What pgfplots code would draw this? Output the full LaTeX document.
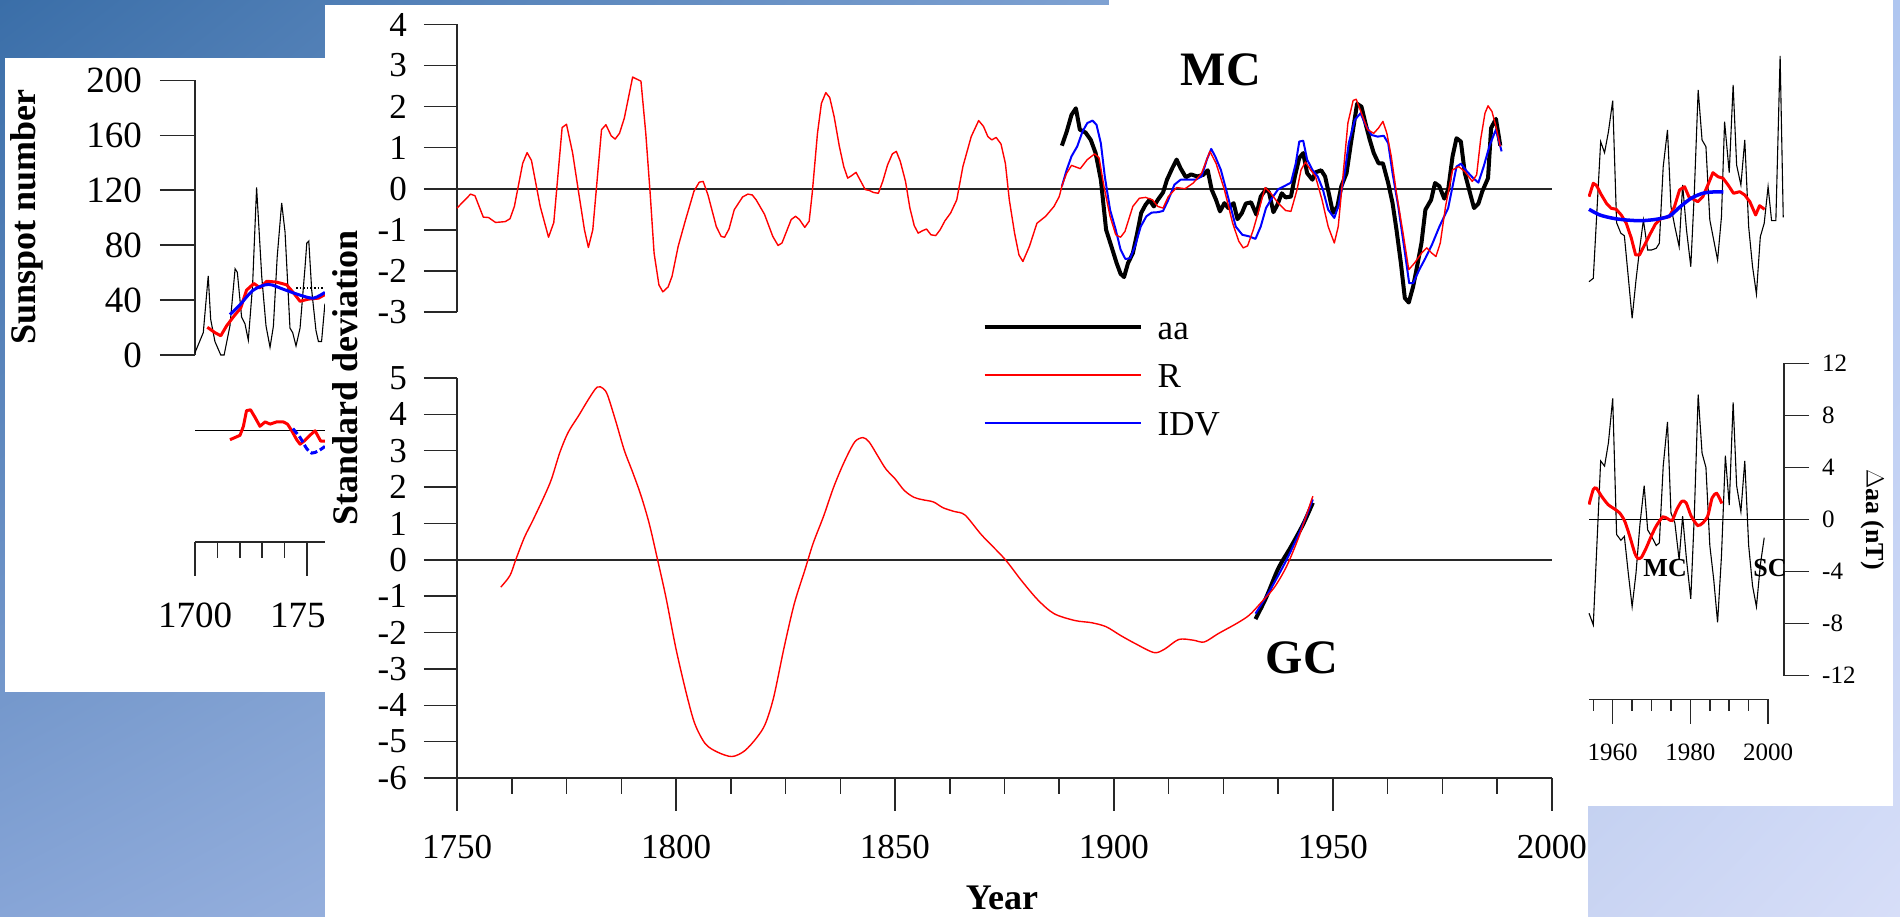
\documentclass[border=0pt]{standalone}
\usepackage{fontspec}
\setmainfont{Liberation Serif}
\usepackage{pgfplots}
\pgfplotsset{compat=1.18}
\usetikzlibrary{shadings}

\newcommand{\fs}[1]{\fontsize{#1}{#1}\selectfont}

\definecolor{bgUL}{RGB}{58,110,168}
\definecolor{bgUR}{RGB}{175,198,240}
\definecolor{bgLL}{RGB}{135,165,215}
\definecolor{bgLR}{RGB}{215,222,248}
\definecolor{axisgray}{RGB}{40,40,40}

\pgfplotsset{
  panel/.style={
    scale only axis, clip=false, anchor=south west,
    /pgf/number format/assume math mode=true,
    /pgf/number format/1000 sep={},
    tick align=outside,
    axis line style={line width=1.5pt, axisgray},
    every tick/.style={line width=1.5pt, axisgray},
    tick label style={inner sep=0pt},
  },
}

\begin{document}
\begin{tikzpicture}
\useasboundingbox (0pt,0pt) rectangle (1900pt,917pt);
\shade[upper left=bgUL, upper right=bgUR, lower left=bgLL, lower right=bgLR]
  (0pt,0pt) rectangle (1900pt,917pt);

% cards behind the main figure
\fill[white] (5pt,225pt) rectangle (340pt,859pt);
\fill[white] (1580pt,111pt) rectangle (1893pt,917pt);

% ---------- left inset: sunspot number ----------
\begin{axis}[panel, at={(195pt,562pt)}, width=134.4pt, height=274.6pt,
  xmin=1700, xmax=1760, ymin=0, ymax=200,
  axis x line=none, axis y line*=left,
  ytick={0,40,...,200}, major tick length=35pt,
  yticklabel style={font=\fs{37}, xshift=-18pt},
  ylabel={Sunspot number},
  every axis y label/.style={at={(axis description cs:-1.252,0.504)}, anchor=center, rotate=90, font=\fs{36}\bfseries}]
\addplot[black, line width=1.1pt] coordinates {
(1700,1.7)(1703.7,16.3)(1705.9,57.6)(1707,26)(1708.9,9.8)(1711.5,0)(1713,0)(1715.6,21.2)
(1717.9,62.8)(1718.9,60.2)(1720.8,27.7)(1722.3,22.8)(1723.8,10.8)(1725.7,50.5)(1727.5,122)
(1729.8,57)(1731.7,21.2)(1733.5,5.6)(1735,21)(1736.7,71.6)(1738.7,110.7)(1740.2,89.5)
(1742.4,19.6)(1743.6,16.3)(1745.1,6.6)(1746.9,19.6)(1749.1,63.5)(1749.9,81.4)(1750.8,83)
(1752.1,47.2)(1754,17.9)(1755.1,9.8)(1756.5,9.8)(1758,37.4)};
\addplot[black, dotted, line width=1.6pt] coordinates {(1745.1,48.9)(1760,48.9)};
\addplot[red, line width=3pt, line join=round] coordinates {
(1705.5,20.2)(1708.9,16.3)(1711.5,14)(1714.1,21.2)(1717.1,27.7)(1720.4,34.2)(1723,47.2)
(1726.3,52.1)(1729,48.9)(1732,53.7)(1736.4,53.1)(1740.9,51.1)(1743.8,45.6)(1746.9,39.1)
(1750.6,40.7)(1755.1,41.4)(1758,44)};
\addplot[blue, line width=3pt, smooth] coordinates {
(1715.6,29.4)(1720.1,36.6)(1726,47.2)(1732.7,51.4)(1739.4,47.9)(1746.1,44)(1752.8,41.4)(1758,45.6)};
\end{axis}

% left inset: deviation strip and its year axis
\begin{axis}[panel, at={(195pt,375pt)}, width=134.4pt, height=142pt,
  xmin=1700, xmax=1760, ymin=-111.2, ymax=30.8,
  axis x line*=bottom, axis y line=none,
  xtick={1700,1750}, minor x tick num=4,
  major tick length=34pt, minor tick length=16pt,
  xticklabel style={font=\fs{37}, yshift=-26.7pt}]
\addplot[black, line width=1.4pt] coordinates {(1700,0)(1760,0)};
\addplot[red, line width=3pt, line join=round] coordinates {
(1715.6,-8.9)(1717.9,-6.7)(1720.1,-4.5)(1721.6,4.5)(1723,20.1)(1724.8,21)(1726.8,13.4)
(1729,4.5)(1731.3,8.9)(1733.5,6.7)(1736.5,8.9)(1739.4,8.9)(1741.3,6.7)(1743.2,0)
(1745.4,-8.9)(1746.9,-13.4)(1748.7,-10.3)(1751.3,-4.5)(1753.6,0)(1756.1,-10.3)(1758,-10.3)};
\addplot[blue, dash pattern=on 7pt off 3pt, line width=3pt, smooth] coordinates {
(1743.7,2.2)(1746.9,-6.7)(1749.9,-17.9)(1752.1,-22.3)(1755.1,-20.1)(1758,-15.6)};
\end{axis}

% ---------- right inset ----------
\begin{axis}[panel, at={(1589pt,597pt)}, width=195pt, height=280pt,
  xmin=1953.9, xmax=2004.1, ymin=40, ymax=320, y dir=reverse, hide axis]
\addplot[black, line width=1.1pt] coordinates {
(1953.9,281.7)(1955,278.3)(1956.9,141.7)(1957.9,152.7)(1958.9,131.7)(1960,100.7)(1961,222.7)
(1962.1,233.3)(1963,235.7)(1964,276.7)(1965,318.3)(1966,280)(1967,246.7)(1967.9,220)
(1969,250)(1970,250)(1971.2,248.3)(1972,243.3)(1973,166.7)(1974.1,130)(1975,206.7)
(1976,226.7)(1977.1,246.7)(1978,185)(1979,230)(1980.1,266.7)(1981,193.3)(1982,90)
(1983,140)(1984,146.7)(1985,220)(1986,240)(1987,260)(1988,216.7)(1988.8,121.7)(1990,172.7)
(1991,85)(1991.9,165)(1993,185)(1994,140)(1995,226.7)(1996,266.7)(1997,294)(1998,236.7)
(1999,223.3)(2000,186.7)(2000.9,220.7)(2002,220.7)(2003.1,56)(2003.9,217.3)};
\addplot[red, line width=3pt, line join=round] coordinates {
(1953.9,196.7)(1955,183.3)(1955.8,185.3)(1957.1,195)(1958.5,204)(1959.6,208.3)(1960.9,209.3)
(1962.2,215)(1963.5,223.3)(1964.8,238.3)(1965.9,255)(1966.9,255)(1968.2,245)(1969.5,235)
(1971,224)(1972.5,218.3)(1974.6,216.7)(1975.9,206.7)(1977.2,190)(1978.5,186.7)(1979.6,196.7)
(1980.8,199.3)(1981.9,201.7)(1983.2,196.7)(1984.5,185)(1985.8,172.7)(1987.1,176.7)
(1988.4,178.3)(1989.7,185)(1991.1,193.3)(1992.7,191.7)(1994,195)(1995.3,201.7)(1996.8,215)
(1997.8,205.7)(1999.1,209.3)};
\addplot[blue, line width=3.5pt, smooth] coordinates {
(1953.9,209.3)(1956.7,215)(1960.1,218.3)(1963.5,220)(1967.4,220.7)(1971.2,219.3)(1974.6,216)
(1977.2,207.3)(1980.2,198.3)(1983.2,193.3)(1985.8,192)(1988.5,192)};
\end{axis}

\begin{axis}[panel, at={(1589pt,241.3pt)}, width=195pt, height=312.4pt,
  xmin=1953.9, xmax=2004.1, ymin=-12, ymax=12,
  axis x line=none, axis y line*=right,
  ytick={-12,-8,...,12}, major tick length=25pt,
  yticklabel style={font=\fs{25}, xshift=13pt},
  ylabel={$\Delta$aa (nT)},
  every axis y label/.style={at={(axis description cs:1.456,0.5)}, anchor=center, rotate=-90, font=\fs{26}\bfseries}]
\addplot[black, line width=1.4pt] coordinates {(1953.9,0)(2004.1,0)};
\addplot[black, line width=1.1pt] coordinates {
(1953.9,-7.2)(1955,-8.1)(1956.9,4.5)(1957.9,4.1)(1958.9,5.9)(1960,9.3)(1961,-1.15)(1962.1,-1.6)
(1963,-1.3)(1964,-4.1)(1965,-6.7)(1966,-4.1)(1967,-0.4)(1968.1,2.6)(1969,-0.8)(1970,-1.3)
(1971.2,-2.0)(1972,-1.8)(1973,4.1)(1974.1,7.5)(1975,0.5)(1976,-0.26)(1977.1,-3.1)(1978,0.26)
(1979,-3.1)(1980.1,-6.1)(1981,0.26)(1982,9.6)(1983,5.1)(1984,4.0)(1985,-2.0)(1986,-4.6)
(1987,-7.9)(1988,-2.8)(1989,4.9)(1990,1.1)(1991,9.0)(1991.9,2.6)(1993,0.6)(1994,4.5)
(1995,-2.0)(1996,-5.1)(1997,-6.7)(1998,-3.5)(1999,-1.4)};
\addplot[red, line width=3pt, smooth, tension=0.4] coordinates {
(1953.9,1.15)(1955,2.3)(1955.8,2.4)(1957.1,1.8)(1958.8,1.15)(1960.5,0.8)(1961.8,0.5)
(1963.1,-0.13)(1964.4,-1.3)(1965.7,-2.6)(1966.5,-3.0)(1967.4,-2.9)(1968.6,-2.2)(1969.9,-1.3)
(1971.2,-0.5)(1972.9,0.2)(1974.2,0.05)(1975.3,-0.08)(1976.5,0.77)(1977.8,1.4)(1978.9,1.28)
(1980.2,0.26)(1981.9,-0.46)(1983.2,-0.26)(1984.5,0.3)(1985.6,1.66)(1986.8,2.0)(1988.1,1.23)};
\node[font=\fs{26}\bfseries] at (axis cs:1973.5,-3.76) {MC};
\node[font=\fs{26}\bfseries] at (axis cs:2000.5,-3.76) {SC};
\end{axis}

\begin{axis}[panel, at={(1589pt,217.7pt)}, width=179pt, height=20pt,
  xmin=1953.9, xmax=2000, ymin=0, ymax=1,
  axis x line*=bottom, axis y line=none,
  xtick={1960,1980,2000}, minor xtick={1955,1965,1970,1975,1985,1990,1995},
  major tick length=24.7pt, minor tick length=11.4pt,
  xticklabel style={font=\fs{25}, yshift=-19.3pt}]
\end{axis}

% ---------- main figure card ----------
\fill[white] (325pt,0pt) rectangle (1588pt,912pt);
\fill[white] (1109pt,912pt) rectangle (1588pt,917pt);

\begin{scope}
\clip (325pt,0pt) rectangle (1588pt,917pt);

% MC: decadal components
\begin{axis}[panel, at={(457pt,605pt)}, width=1095pt, height=287.5pt,
  xmin=1750, xmax=2000, ymin=-3, ymax=4,
  axis x line=none, axis y line*=left,
  ytick={-3,...,4}, major tick length=33pt,
  yticklabel style={font=\fs{35}, xshift=-17pt}]
\addplot[axisgray, line width=1.5pt] coordinates {(1750,0)(2000,0)};
\addplot[black, line width=4pt, line join=round] coordinates {
(1888.1,1.05)(1889.2,1.39)(1890.3,1.80)(1891.3,1.96)(1892.2,1.44)(1893.5,1.37)(1894.7,1.19)
(1895.8,0.87)(1897,0.22)(1898.2,-1.0)(1899.4,-1.40)(1900.6,-1.81)(1901.5,-2.07)(1902.3,-2.15)
(1903.2,-1.81)(1904.3,-1.57)(1905.3,-1.08)(1906.2,-0.59)(1907.2,-0.39)(1908.1,-0.27)
(1909.1,-0.43)(1910,-0.27)(1911.2,-0.09)(1912.1,0.22)(1913.3,0.50)(1914.3,0.71)(1915.2,0.50)
(1916.4,0.28)(1917.6,0.35)(1919,0.30)(1920.4,0.34)(1921.4,0.45)(1922.3,-0.02)(1923.3,-0.27)
(1924.2,-0.55)(1925.2,-0.35)(1926.1,-0.47)(1927.3,-0.35)(1928.2,-0.74)(1929.2,-0.59)
(1930.1,-0.36)(1931.3,-0.33)(1932.5,-0.63)(1933.5,-0.19)(1934.7,-0.01)(1935.4,-0.09)
(1936.4,-0.57)(1937.3,-0.39)(1938.3,-0.11)(1939.2,-0.21)(1940.4,-0.19)(1941.3,0.30)
(1942.3,0.75)(1943.2,0.87)(1944.1,0.38)(1945.3,0.22)(1946,0.40)(1947.3,0.45)(1948.2,0.30)
(1949.2,-0.19)(1950,-0.59)(1951,-0.43)(1951.9,0.06)(1953.1,0.38)(1954.1,1.11)(1955.5,2.07)
(1956.5,2.00)(1957.4,1.60)(1958.4,1.19)(1959.3,0.87)(1960.4,0.62)(1961.4,0.62)(1962.6,0.14)
(1963.6,-0.35)(1964.5,-1.0)(1965.5,-1.81)(1966.4,-2.66)(1967.3,-2.77)(1968.3,-2.38)
(1969.2,-1.89)(1970.2,-1.32)(1971.1,-0.51)(1972.4,-0.27)(1973.3,0.14)(1974.3,0.06)
(1975.4,-0.24)(1976.3,-0.02)(1977.3,0.79)(1978.2,1.23)(1979.2,1.15)(1980.1,0.38)
(1981.3,-0.11)(1982.2,-0.47)(1983.2,-0.36)(1984.1,-0.06)(1985.4,0.26)(1986.1,1.48)
(1987.2,1.70)(1988.2,1.05)};
\addplot[blue, line width=2pt, line join=round] coordinates {
(1888.1,0.06)(1889.2,0.46)(1890.3,0.79)(1891.6,1.03)(1892.8,1.39)(1893.9,1.60)(1895.1,1.66)
(1896,1.56)(1897,1.11)(1897.9,0.30)(1899.1,-0.51)(1900.4,-1.0)(1901.5,-1.48)(1902.6,-1.71)
(1903.7,-1.69)(1904.8,-1.40)(1906.1,-0.92)(1907.4,-0.67)(1908.6,-0.58)(1910,-0.57)
(1911.2,-0.54)(1912.4,-0.27)(1913.8,0.10)(1915.2,0.22)(1916.7,0.22)(1918.6,0.22)(1920,0.30)
(1921.2,0.71)(1922.2,0.97)(1923.1,0.79)(1924.4,0.46)(1925.4,0.06)(1926.6,-0.43)(1927.8,-0.92)
(1929.3,-1.12)(1930.9,-1.16)(1932.3,-1.22)(1933.5,-0.92)(1934.7,-0.47)(1935.8,-0.27)
(1937.5,-0.01)(1939,0.07)(1940.4,0.15)(1941.5,0.62)(1942.3,1.15)(1943.2,1.17)(1944.1,0.71)
(1945.3,0.46)(1946.5,0.30)(1947.7,-0.02)(1948.9,-0.51)(1950.3,-0.71)(1951.2,-0.43)
(1952.5,0.26)(1953.6,1.11)(1955,1.68)(1956.3,1.84)(1957.4,1.56)(1958.8,1.31)(1960.2,1.27)
(1961.6,1.29)(1962.6,1.11)(1963.6,0.38)(1964.9,-0.43)(1966,-1.24)(1967.4,-2.30)(1968.3,-2.30)
(1969.7,-1.97)(1971.1,-1.69)(1972.6,-1.36)(1974.3,-0.92)(1976.3,-0.47)(1977.3,0.06)
(1978.2,0.54)(1979.2,0.61)(1980.6,0.42)(1982,0.26)(1983.2,0.15)(1984.4,0.54)(1985.8,1.07)
(1987.2,1.44)(1988.5,0.91)};
\addplot[red, line width=1.4pt, line join=round] coordinates {
(1750,-0.47)(1753.1,-0.13)(1754.1,-0.17)(1756,-0.69)(1757.2,-0.70)(1758.8,-0.82)(1761,-0.80)
(1762.1,-0.73)(1763.1,-0.43)(1765,0.62)(1766,0.88)(1767,0.69)(1769,-0.43)(1770.9,-1.18)
(1772.1,-0.82)(1774,1.49)(1775,1.57)(1776.4,0.87)(1777.8,-0.11)(1779.1,-1.00)(1780,-1.43)
(1781,-1.00)(1783,1.44)(1784,1.56)(1785.2,1.29)(1786.1,1.21)(1787.1,1.35)(1788.2,1.72)
(1790.1,2.72)(1792,2.62)(1793.1,1.35)(1794.1,-0.11)(1795,-1.57)(1796.1,-2.34)(1797,-2.51)
(1798.2,-2.39)(1799.1,-2.13)(1800.5,-1.40)(1802.2,-0.75)(1804.1,-0.06)(1805.3,0.16)
(1806.2,0.18)(1807.3,-0.15)(1809.2,-0.92)(1810.3,-1.16)(1811.1,-1.18)(1812.1,-0.98)
(1813.3,-0.51)(1815.2,-0.20)(1816.4,-0.13)(1817.4,-0.15)(1818.3,-0.27)(1820.2,-0.62)
(1822.1,-1.16)(1823.3,-1.38)(1824.2,-1.32)(1826.3,-0.75)(1827.3,-0.67)(1828.2,-0.75)
(1829.4,-0.94)(1830.4,-0.79)(1831.1,-0.11)(1832.3,1.35)(1833.2,2.08)(1834.2,2.34)(1835.1,2.22)
(1836.1,1.76)(1837.3,1.03)(1838.3,0.54)(1839.2,0.26)(1840.1,0.32)(1841.1,0.40)(1842.2,0.18)
(1843.2,-0.02)(1844.1,-0.04)(1845.1,-0.09)(1846.2,-0.11)(1847.2,0.18)(1848.3,0.58)
(1849.4,0.85)(1850.3,0.91)(1851.2,0.67)(1852.4,0.18)(1853.4,-0.47)(1854.4,-0.90)(1855.3,-1.08)
(1856.3,-1.02)(1857.2,-0.98)(1858.2,-1.12)(1859.3,-1.14)(1860.3,-1.00)(1861.4,-0.78)
(1862.7,-0.59)(1864.1,-0.27)(1865.5,0.54)(1867.4,1.27)(1869.1,1.66)(1870.2,1.52)(1871.2,1.27)
(1872.1,1.19)(1873.1,1.25)(1874.2,1.09)(1875.2,0.62)(1876.1,-0.27)(1877.3,-1.08)(1878.3,-1.61)
(1879.2,-1.77)(1880.7,-1.40)(1882.4,-0.84)(1884.4,-0.67)(1886.3,-0.43)(1887.5,-0.19)
(1888.2,0.10)(1889.2,0.38)(1890.3,0.57)(1892.3,0.49)(1893.9,0.71)(1895.6,0.85)(1896.6,0.75)
(1897.7,0.06)(1899.1,-0.67)(1900.4,-1.12)(1901.5,-1.18)(1902.5,-1.04)(1904.3,-0.43)
(1905.8,-0.23)(1907.2,-0.21)(1908.8,-0.27)(1910,-0.43)(1911.2,-0.47)(1912.4,-0.19)
(1914.3,0.03)(1916.2,0.0)(1918.1,0.14)(1920,0.38)(1921.9,0.91)(1923.3,0.62)(1925.2,-0.02)
(1927.1,-0.84)(1928.5,-1.28)(1929.5,-1.44)(1930.5,-1.39)(1931.8,-1.0)(1933.2,-0.47)
(1934.5,0.03)(1935.8,-0.11)(1937.5,-0.35)(1939.2,-0.53)(1940.4,-0.55)(1941.8,-0.02)
(1942.7,0.46)(1943.7,0.65)(1944.9,0.46)(1946,0.30)(1947.5,-0.27)(1948.9,-0.92)(1950.3,-1.32)
(1951.2,-0.92)(1952.2,0.22)(1953.4,1.60)(1954.6,2.15)(1955.3,2.18)(1956.5,1.84)(1957.9,1.44)
(1959.3,1.35)(1960.4,1.48)(1961.4,1.64)(1962.3,1.35)(1963.3,0.79)(1964.5,-0.11)(1966,-1.08)
(1967.3,-1.97)(1968.6,-1.81)(1970.2,-1.57)(1971.4,-1.44)(1972.6,-1.57)(1973.5,-1.65)
(1974.5,-1.32)(1975.7,-0.43)(1977.3,0.46)(1978.7,0.54)(1980.1,0.42)(1981.8,0.18)(1982.8,0.34)
(1983.7,1.19)(1984.7,1.84)(1985.4,2.02)(1986.3,1.88)(1987.2,1.52)(1988.2,1.03)};
\node[font=\fs{48}\bfseries] at (axis cs:1924.4,2.90) {MC};
\end{axis}

% GC: secular components
\begin{axis}[panel, at={(457pt,139pt)}, width=1095pt, height=400pt,
  xmin=1750, xmax=2000, ymin=-6, ymax=5,
  axis lines*=left,
  xtick={1750,1800,...,2000}, minor x tick num=3,
  ytick={-6,...,5},
  major tick length=33pt, minor tick length=16pt,
  tick label style={font=\fs{35}},
  xticklabel style={yshift=-24.5pt},
  yticklabel style={xshift=-17pt},
  xlabel={Year}, ylabel={Standard deviation},
  every axis x label/.style={at={(axis description cs:0.4977,-0.3)}, anchor=center, font=\fs{36}\bfseries},
  every axis y label/.style={at={(axis description cs:-0.1023,1.0)}, anchor=center, rotate=90, font=\fs{36}\bfseries},
  legend style={draw=none, fill=none, inner sep=0pt, outer sep=0pt,
    at={(axis description cs:0.4801,1.157)}, anchor=north west,
    font=\fs{35}, row sep=24pt, column sep=15pt,
    nodes={inner sep=0pt, text height=24pt, text depth=0pt}},
  legend cell align=left,
  legend image code/.code={\draw[#1] (0pt,0pt) -- (156pt,0pt);}]
\addlegendimage{black, line width=4pt}
\addlegendentry{aa}
\addlegendimage{red, line width=1.4pt}
\addlegendentry{R}
\addlegendimage{blue, line width=2pt}
\addlegendentry{IDV}
\addplot[axisgray, line width=1.5pt, forget plot] coordinates {(1750,0)(2000,0)};
\addplot[black, line width=4pt, smooth, forget plot] coordinates {
(1932.3,-1.63)(1934.7,-1.05)(1937.5,-0.24)(1940.4,0.36)(1943.2,0.98)(1945.4,1.57)};
\addplot[blue, line width=2pt, smooth, forget plot] coordinates {
(1932.3,-1.48)(1935.6,-0.84)(1939.4,0)(1942.7,0.85)(1945.4,1.66)};
\addplot[red, line width=1.4pt, smooth, tension=0.5, forget plot] coordinates {
(1760,-0.75)(1762.1,-0.43)(1763.5,0.03)(1765.4,0.62)(1767.3,1.08)(1770,1.77)(1771.6,2.23)
(1773.5,2.96)(1775.4,3.51)(1777.8,3.97)(1780.1,4.43)(1782,4.75)(1783.4,4.71)(1784.4,4.52)
(1786.3,3.79)(1788.2,3.01)(1790.1,2.41)(1792,1.77)(1793.9,0.99)(1795.8,0)(1797.7,-1.03)
(1800,-2.45)(1802.4,-3.69)(1804.3,-4.51)(1806.7,-5.06)(1809.5,-5.29)(1812.8,-5.41)
(1815.7,-5.25)(1818.5,-4.88)(1820.4,-4.51)(1822.3,-3.78)(1824.7,-2.40)(1827,-1.21)
(1829.4,-0.29)(1831.3,0.45)(1833.7,1.20)(1836,2.0)(1838.4,2.69)(1840.8,3.24)(1842.7,3.36)
(1844.1,3.24)(1846,2.87)(1847.9,2.50)(1850,2.23)(1852.1,1.91)(1854.3,1.72)(1856.4,1.65)
(1858.8,1.59)(1861,1.43)(1863.5,1.33)(1866,1.23)(1869.8,0.68)(1875,0.03)(1878.8,-0.56)
(1882.6,-1.10)(1886.3,-1.48)(1891.1,-1.67)(1894.9,-1.73)(1898.2,-1.84)(1901.5,-2.08)
(1904.8,-2.30)(1909.1,-2.55)(1911.5,-2.46)(1914.8,-2.19)(1918.1,-2.21)(1920.6,-2.26)
(1923.8,-2.03)(1928,-1.75)(1930.9,-1.52)(1933.7,-1.16)(1936.6,-0.76)(1939.4,-0.18)
(1942.2,0.63)(1945.4,1.75)};
\node[font=\fs{48}\bfseries] at (axis cs:1942.9,-2.70) {GC};
\end{axis}
\end{scope}
\end{tikzpicture}
\end{document}
